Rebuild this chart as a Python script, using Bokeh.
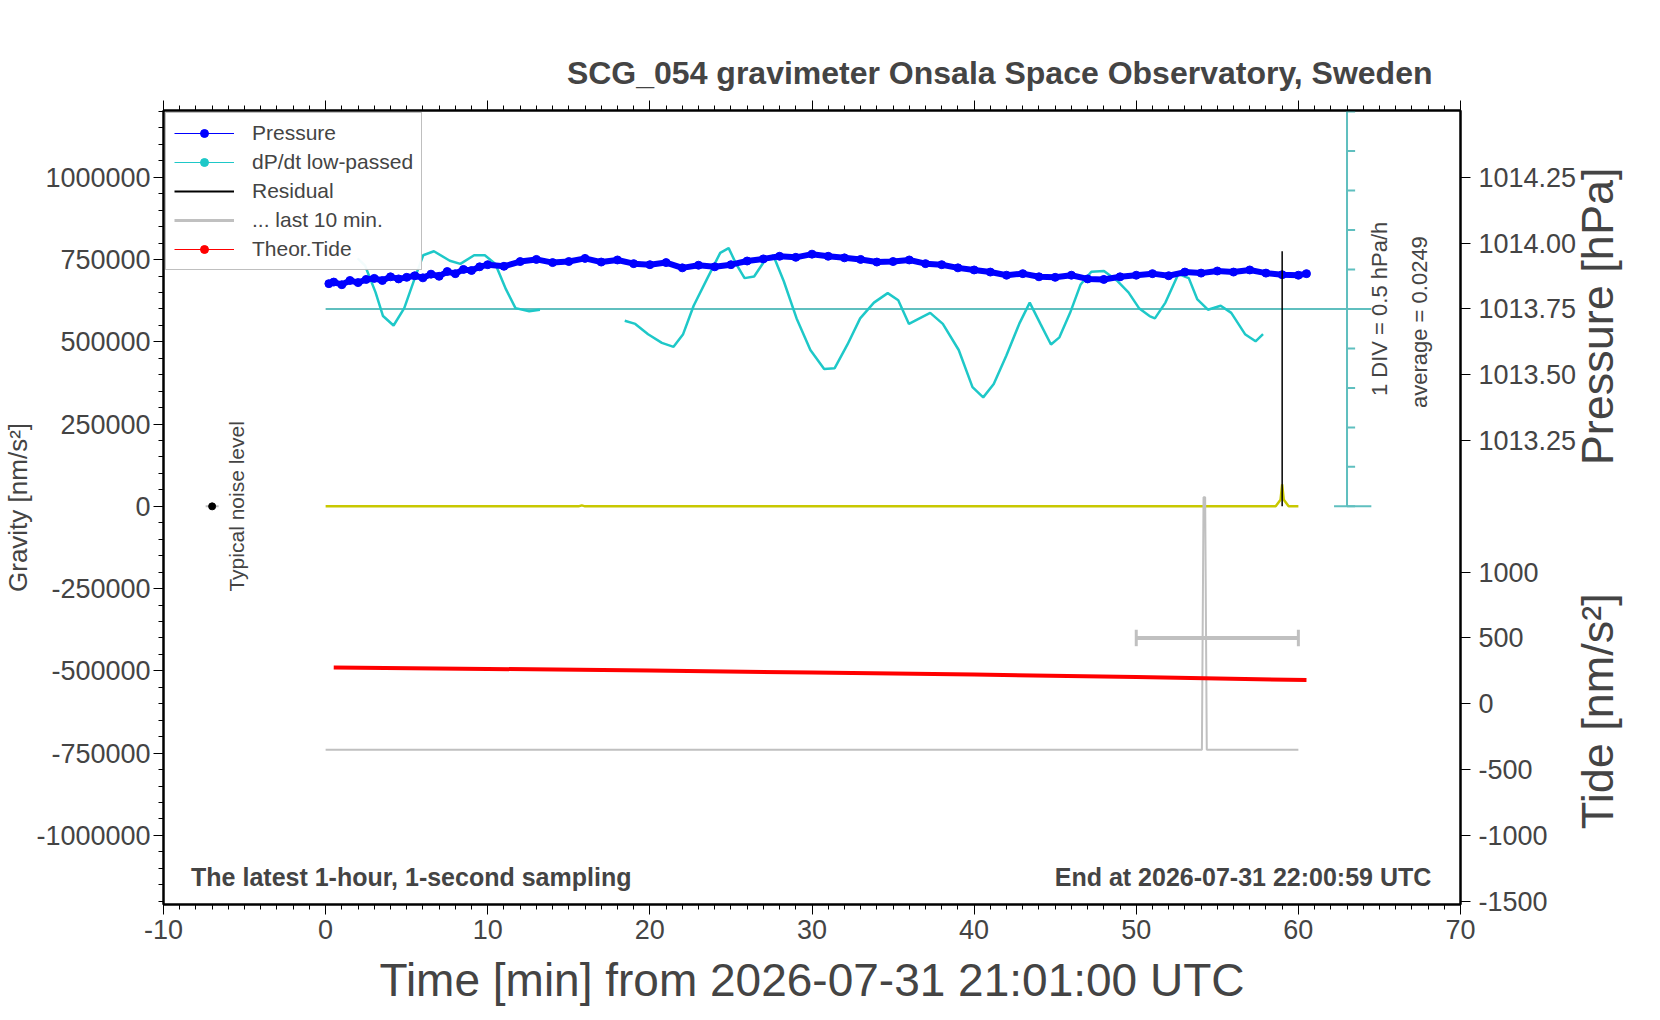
import numpy as np
from bokeh.plotting import figure
from bokeh.models import (Range1d, LinearAxis, FixedTicker, Label, Legend, LegendItem, Title)
from bokeh.embed import file_html
from bokeh.resources import INLINE

# --- data ---
minutos_pressao = [0.2, 0.5, 1, 1.5, 2, 2.5, 3, 3.5, 4, 4.5, 5, 5.5, 6, 6.5, 7, 7.5, 8, 8.5, 9, 9.5, 10,
                   11, 12, 13, 14, 15, 16, 17, 18, 19, 20, 21, 22, 23, 24, 25, 26, 27, 28, 29, 30,
                   31, 32, 33, 34, 35, 36, 37, 38, 39, 40, 41, 42, 43, 44, 45, 46, 47, 48, 49, 50,
                   51, 52, 53, 54, 55, 56, 57, 58, 59, 60, 60.5]
pressao = [1013.846, 1013.852, 1013.842, 1013.858, 1013.850, 1013.862, 1013.866, 1013.858, 1013.872, 1013.864,
           1013.870, 1013.876, 1013.868, 1013.882, 1013.874, 1013.892, 1013.884, 1013.900, 1013.896, 1013.910,
           1013.918, 1013.912, 1013.930, 1013.938, 1013.926, 1013.930, 1013.942, 1013.928, 1013.936, 1013.922,
           1013.918, 1013.926, 1013.906, 1013.916, 1013.910, 1013.918, 1013.932, 1013.940, 1013.950, 1013.946,
           1013.958, 1013.950, 1013.944, 1013.938, 1013.928, 1013.930, 1013.936, 1013.922, 1013.918, 1013.906,
           1013.898, 1013.890, 1013.878, 1013.884, 1013.872, 1013.870, 1013.878, 1013.864, 1013.862, 1013.872,
           1013.878, 1013.884, 1013.876, 1013.890, 1013.886, 1013.894, 1013.890, 1013.898, 1013.886, 1013.880,
           1013.878, 1013.884]

minutos_dpdt = [1.97, 2.43, 3.08, 3.54, 4.19, 4.85, 5.50, 6.02, 6.68, 7.66, 8.31, 9.16, 9.82, 10.47, 11.12,
                11.71, 12.56, 13.22, None,
                18.45, 19.10, 19.89, 20.74, 21.46, 22.05, 22.70, 23.55, 24.34, 24.86, 25.32, 25.84, 26.43,
                27.08, 27.61, 28.26, 29.05, 29.90, 30.75, 31.40, 32.19, 32.97, 33.82, 34.67, 35.32, 35.98,
                36.63, 37.29, 38.07, 39.05, 39.90, 40.56, 41.21, 41.99, 42.78, 43.43, 44.09, 44.74, 45.26,
                45.92, 46.57, 47.23, 48.01, 48.86, 49.52, 50.17, 50.82, 51.15, 51.80, 52.59, 53.24, 53.77,
                54.42, 55.21, 55.86, 56.71, 57.36, 57.82]
dpdt = [0.64, 0.55, 0.21, -0.09, -0.21, 0.01, 0.39, 0.68, 0.73, 0.61, 0.57, 0.68, 0.68, 0.57, 0.25,
        0.01, -0.03, -0.01, None,
        -0.15, -0.19, -0.32, -0.43, -0.48, -0.32, 0.04, 0.39, 0.71, 0.77, 0.57, 0.39, 0.41,
        0.61, 0.68, 0.35, -0.12, -0.52, -0.76, -0.75, -0.45, -0.12, 0.08, 0.20, 0.11, -0.19,
        -0.12, -0.05, -0.19, -0.52, -0.99, -1.12, -0.95, -0.59, -0.19, 0.08, -0.19, -0.45, -0.36,
        -0.05, 0.31, 0.47, 0.48, 0.35, 0.21, 0.01, -0.09, -0.12, 0.08, 0.44, 0.39, 0.12,
        -0.01, 0.04, -0.05, -0.32, -0.41, -0.32]
media_dpdt = 0.0249

minutos_mare = [0.5, 10, 20, 30, 40, 50, 60.5]
mare = [275, 265, 252, 237, 222, 204, 180]

minutos_residuo = [0, 15.6, 15.8, 16.0, 58.6, 58.9, 59.0, 59.1, 59.4, 60]
residuo = [0, 0, 3000, 0, 0, 20000, 67000, 20000, 0, 0]
residuo_pico_x = [59.0, 59.0]
residuo_pico_y = [0, 775000]

minutos_ultimos = [0, 54.05, 54.15, 54.25, 54.35, 60]
ultimos = [-350, -350, 1570, 1570, -350, -350]
ultimos_media = 500
ultimos_intervalo = [50, 60]

ticks_pressao = [1013.25, 1013.50, 1013.75, 1014.00, 1014.25]
ticks_mare = [-1500, -1000, -500, 0, 500, 1000]
ticks_gravidade = [-1000000, -750000, -500000, -250000, 0, 250000, 500000, 750000, 1000000]
ticks_tempo = [-10, 0, 10, 20, 30, 40, 50, 60, 70]

FONTE = "Liberation Sans"


def p_para_g(p):
    return (p - 1013.0) * 800000


def mare_para_g(t):
    return t * 400 - 600000


def dpdt_para_g(d):
    return None if d is None else 600000 + d * 240000


p = figure(width=1652, height=1010, x_range=Range1d(-10, 70), y_range=Range1d(-1210000, 1203000),
           output_backend="svg", toolbar_location=None)
p.min_border_left = 160
p.min_border_right = 192
p.min_border_top = 110
p.min_border_bottom = 106
p.grid.visible = False
p.outline_line_color = "black"
p.outline_line_width = 2

p.xaxis.ticker = FixedTicker(ticks=ticks_tempo, minor_ticks=list(range(-10, 71)))
p.xaxis.major_label_overrides = {t: str(t) for t in ticks_tempo}
p.yaxis.ticker = FixedTicker(ticks=ticks_gravidade, minor_ticks=list(range(-1200000, 1200001, 50000)))
p.yaxis.major_label_overrides = {t: str(t) for t in ticks_gravidade}
for ax in [p.xaxis[0], p.yaxis[0]]:
    ax.major_label_text_font = FONTE
    ax.major_label_text_font_size = "27px"
    ax.major_tick_out = 10
    ax.major_tick_in = 0
    ax.minor_tick_out = 5
    ax.minor_tick_in = 0
    ax.axis_line_width = 2
p.yaxis.axis_label = "Gravity [nm/s²]"
p.yaxis.axis_label_text_font = FONTE
p.yaxis.axis_label_text_font_size = "26px"
p.yaxis.axis_label_text_font_style = "normal"
p.yaxis.axis_label_standoff = 0
p.yaxis.major_label_standoff = 3
p.xaxis.axis_label = "Time [min] from 2026-07-31 21:01:00 UTC"
p.xaxis.axis_label_text_font = FONTE
p.xaxis.axis_label_text_font_size = "46px"
p.xaxis.axis_label_text_font_style = "normal"
p.xaxis.axis_label_standoff = 12

topo = LinearAxis(ticker=FixedTicker(ticks=ticks_tempo, minor_ticks=list(range(-10, 71))),
                  major_label_text_font_size="0px",
                  major_tick_out=10, major_tick_in=0, minor_tick_out=5, minor_tick_in=0, axis_line_width=2)
p.add_layout(topo, "above")

pos_dir = [p_para_g(v) for v in ticks_pressao] + [mare_para_g(v) for v in ticks_mare]
rotulos = {}
for v in ticks_pressao:
    rotulos[p_para_g(v)] = "%.2f" % v
for v in ticks_mare:
    rotulos[mare_para_g(v)] = "%d" % v
direita = LinearAxis(ticker=FixedTicker(ticks=pos_dir), major_label_overrides=rotulos,
                     major_label_text_font=FONTE, major_label_text_font_size="27px",
                     major_tick_out=10, major_tick_in=0, axis_line_width=2, major_label_standoff=8)
p.add_layout(direita, "right")

# axis titles of the right side, drawn as tick labels of a bare axis (anchored at the text's start)
titulos_dir = LinearAxis(ticker=FixedTicker(ticks=[125000, -981000]),
                         major_label_overrides={125000: "Pressure [hPa]", -981000: "Tide [nm/s²]"},
                         major_label_orientation=np.pi / 2, major_label_text_font=FONTE,
                         major_label_text_font_size="45px", axis_line_color=None,
                         major_tick_line_color=None, minor_tick_line_color=None, major_label_standoff=12)
p.add_layout(titulos_dir, "right")

p.add_layout(Title(text="SCG_054 gravimeter Onsala Space Observatory, Sweden", align="right", offset=28,
                   text_font=FONTE, text_font_size="32px", text_font_style="bold", standoff=20), "above")

# dP/dt scale on the right side
p.line([0, 64.5], [dpdt_para_g(media_dpdt) - 6000] * 2, color="#5fbfbf", line_width=2)
p.line([63, 63], [0, 1203000], color="#5fbfbf", line_width=2)
p.line([62.2, 64.5], [0, 0], color="#5fbfbf", line_width=2)
for k in range(11):
    p.line([63, 63.5], [k * 120000] * 2, color="#5fbfbf", line_width=2)

# series
x_dpdt = [np.nan if v is None else v for v in minutos_dpdt]
y_dpdt = [np.nan if d is None else dpdt_para_g(d) for d in dpdt]
p.line(x_dpdt, y_dpdt, color="#1ec8c8", line_width=2.5)

y_p = [p_para_g(v) for v in pressao]
p.line(minutos_pressao, y_p, color="blue", line_width=6)
p.scatter(minutos_pressao, y_p, color="blue", size=8)

p.line(minutos_residuo, residuo, color="#c8c800", line_width=2.5)
p.line(residuo_pico_x, residuo_pico_y, color="black", line_width=1.5)

y_ult = [mare_para_g(v) for v in ultimos]
p.line(minutos_ultimos, y_ult, color="#c0c0c0", line_width=2)
g_med = mare_para_g(ultimos_media)
p.line(ultimos_intervalo, [g_med, g_med], color="#c0c0c0", line_width=4)
p.line([ultimos_intervalo[0]] * 2, [g_med - 25000, g_med + 25000], color="#c0c0c0", line_width=3)
p.line([ultimos_intervalo[1]] * 2, [g_med - 25000, g_med + 25000], color="#c0c0c0", line_width=3)

p.line(minutos_mare, [mare_para_g(v) for v in mare], color="red", line_width=4)

# noise level marker
p.line([-7.4, -6.6], [0, 0], color="#c0c0c0", line_width=2)
p.scatter([-7], [0], color="black", size=7)
p.add_layout(Label(x=-5.5, y=0, text="Typical noise level", angle=np.pi / 2, text_align="center",
                   text_baseline="middle", text_font=FONTE, text_font_size="21px"))

# legend dummies
d_cy = p.scatter([np.nan], [np.nan], color="#1ec8c8", size=7)
d_cyl = p.line([np.nan], [np.nan], color="#1ec8c8", line_width=1)
d_bl = p.line([np.nan], [np.nan], color="blue", line_width=1)
d_b = p.scatter([np.nan], [np.nan], color="blue", size=7)
d_r = p.scatter([np.nan], [np.nan], color="red", size=7)
d_rl = p.line([np.nan], [np.nan], color="red", line_width=1)
d_k = p.line([np.nan], [np.nan], color="black", line_width=2)
d_g = p.line([np.nan], [np.nan], color="#c0c0c0", line_width=3)
legenda = Legend(items=[
    LegendItem(label="Pressure", renderers=[d_bl, d_b]),
    LegendItem(label="dP/dt low-passed", renderers=[d_cyl, d_cy]),
    LegendItem(label="Residual", renderers=[d_k]),
    LegendItem(label="... last 10 min.", renderers=[d_g]),
    LegendItem(label="Theor.Tide", renderers=[d_rl, d_r]),
], location="top_left", label_text_font=FONTE, label_text_font_size="21px", glyph_width=60,
    glyph_height=20, label_height=20, spacing=5, padding=8, margin=2, border_line_color="#808080",
    border_line_width=1.5, label_standoff=18)
p.add_layout(legenda, "center")

# texts
p.add_layout(Label(x=-8.3, y=-1125000, text="The latest 1-hour, 1-second sampling", text_align="left",
                   text_baseline="middle", text_font=FONTE, text_font_size="25px", text_font_style="bold"))
p.add_layout(Label(x=68.2, y=-1125000, text="End at 2026-07-31 22:00:59 UTC", text_align="right",
                   text_baseline="middle", text_font=FONTE, text_font_size="25px", text_font_style="bold"))
p.add_layout(Label(x=65.0, y=600000, text="1 DIV = 0.5 hPa/h", angle=np.pi / 2, text_align="center",
                   text_baseline="middle", text_font=FONTE, text_font_size="22px"))
p.add_layout(Label(x=67.5, y=560000, text="average = %.4f" % media_dpdt, angle=np.pi / 2, text_align="center",
                   text_baseline="middle", text_font=FONTE, text_font_size="22px"))

open("out.html", "w").write(file_html(p, INLINE))
